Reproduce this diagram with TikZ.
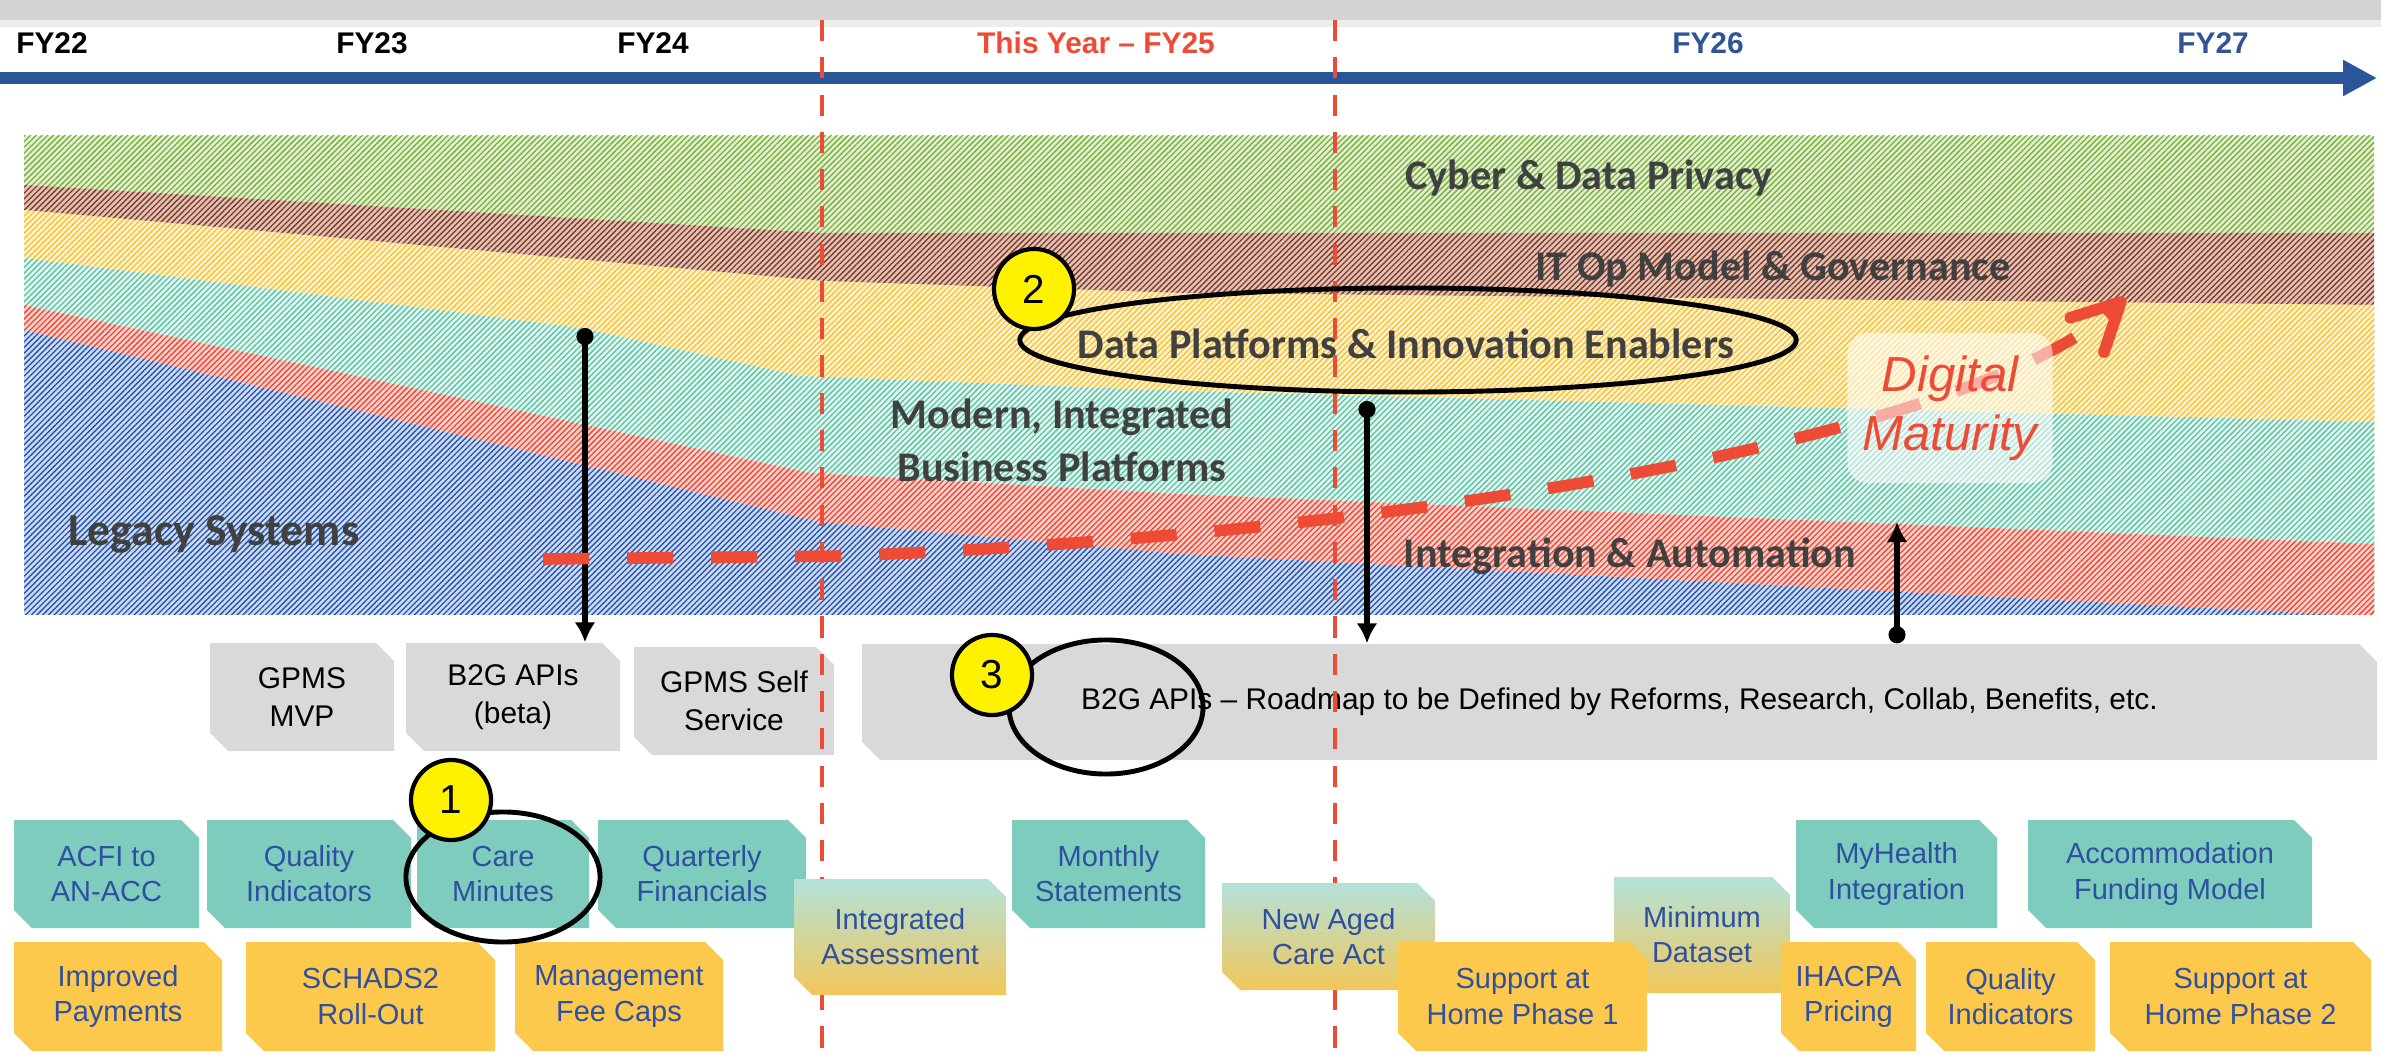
\documentclass[tikz,border=0pt]{standalone}
\usepackage{fontspec}
\setmainfont{Liberation Sans}
\newfontfamily\calibri{Carlito}
\usepackage{xcolor}
\usepackage{tikz}
\usetikzlibrary{arrows.meta}
\usetikzlibrary{shapes.geometric,patterns.meta}

\definecolor{topgray}{HTML}{D3D3D5}
\definecolor{tlblue}{HTML}{2A5599}
\definecolor{nowred}{HTML}{EE4B36}
\definecolor{fytext}{HTML}{2F5597}
\definecolor{boxtext}{HTML}{2F50A0}
\definecolor{bandtext}{HTML}{404040}
\definecolor{tealbox}{HTML}{7ECCBE}
\definecolor{yellowbox}{HTML}{FDC94C}
\definecolor{graybox}{HTML}{D9D9D9}
\definecolor{gradtop}{HTML}{B3E2DA}
\definecolor{gradbot}{HTML}{F2C75A}
\definecolor{grnbase}{HTML}{E2EFD2}
\definecolor{grnline}{HTML}{7AAE3A}
\definecolor{brnbase}{HTML}{E4C2B6}
\definecolor{brnline}{HTML}{7A3A28}
\definecolor{ylwbase}{HTML}{FFF2CC}
\definecolor{ylwline}{HTML}{F6C136}
\definecolor{tlbase}{HTML}{E0F5EF}
\definecolor{tlline}{HTML}{5DC0A5}
\definecolor{redbase}{HTML}{FBD2CB}
\definecolor{redline}{HTML}{EE4535}
\definecolor{blubase}{HTML}{CCDBF3}
\definecolor{bluline}{HTML}{2653A8}

\tikzstyle{hatch} = [pattern={Lines[angle=45,distance=1.15pt,line width=0.38pt]}]
\tikzstyle{greenband} = [fill=grnbase, postaction={hatch, pattern color=grnline}]
\tikzstyle{brownband} = [fill=brnbase, postaction={hatch, pattern color=brnline}]
\tikzstyle{yellowband} = [fill=ylwbase, postaction={hatch, pattern color=ylwline}]
\tikzstyle{tealband} = [fill=tlbase, postaction={hatch, pattern color=tlline}]
\tikzstyle{redband} = [fill=redbase, postaction={hatch, pattern color=redline}]
\tikzstyle{blueband} = [fill=blubase, postaction={hatch, pattern color=bluline}]
\tikzstyle{yearlabel} = [font=\bfseries\fontsize{8.5}{10}\selectfont]
\tikzstyle{bandlabel} = [font=\calibri\bfseries\fontsize{12}{15}\selectfont, text=bandtext, align=center]
\tikzstyle{boxlabel} = [font=\fontsize{8.25}{10}\selectfont, text=boxtext, align=center, inner sep=0pt]
\tikzstyle{graylabel} = [font=\fontsize{8.5}{10.9}\selectfont, text=black, align=center, inner sep=0pt]
\tikzstyle{timeline} = [tlblue, line width=3.4pt, -{Triangle[length=0.34cm,width=0.34cm]}]
\tikzstyle{nowline} = [nowred, line width=1.2pt, dash pattern=on 6pt off 4.6pt]
\tikzstyle{droparrow} = [line width=1.6pt, {Circle[length=1.7mm]}-{Latex[length=2mm,width=2.1mm]}]
\tikzstyle{matline} = [nowred, line width=3.3pt, dash pattern=on 13.1pt off 10.8pt, -{Straight Barb[length=4.7mm,width=4.8mm,round]}]
\tikzstyle{matbox} = [rounded corners=0.2cm, fill=white, fill opacity=0.55, text opacity=1, text=nowred, minimum width=2.05cm, minimum height=1.5cm, align=center, font=\itshape\fontsize{14}{16.8}\selectfont]
\tikzstyle{handring} = [ellipse, draw=black, line width=1.4pt, inner sep=0pt]
\tikzstyle{badge} = [circle, draw=black, line width=1.2pt, fill=yellow, minimum size=0.8cm, inner sep=0pt, font=\fontsize{11.5}{12}\selectfont]

% box with cut top-right and bottom-left corners: name, x1, y1, x2, y2, fill, text style, text
\newcommand{\snipbox}[8]{%
  \path[#6] (#2,#3) -- ({#4-18},#3) -- (#4,{#3+18}) -- (#4,#5) -- ({#2+18},#5) -- (#2,{#5-18}) -- cycle;
  \node[#7, minimum width={(#4-#2)*0.01cm}, minimum height={(#5-#3)*0.01cm}] (#1) at ({(#2+#4)/2},{(#3+#5)/2}) {#8};
}

\begin{document}
\begin{tikzpicture}[x=0.01cm, y=-0.01cm]
\useasboundingbox (0,0) rectangle (2381,1058);

% time line
\fill[topgray] (0,0) rectangle (2381,20);
\fill[topgray!40] (0,20) rectangle (2381,27);
\coordinate (tlstart) at (0,78);
\coordinate (tlend) at (2377,78);
\draw[timeline] (tlstart) -- (tlend);

\node[yearlabel] (fy22) at (52,43) {FY22};
\node[yearlabel] (fy23) at (372,43) {FY23};
\node[yearlabel] (fy24) at (653,43) {FY24};
\node[yearlabel, text=nowred] (fy25) at (1096,43) {This Year – FY25};
\node[yearlabel, text=fytext] (fy26) at (1708,43) {FY26};
\node[yearlabel, text=fytext] (fy27) at (2213,43) {FY27};

% layers
\path[greenband] (24,136) rectangle (2374,615);
\path[brownband] (24,185) -- (822,233) -- (2374,233) |- (24,615) -- cycle;
\path[yellowband] (24,210) -- (822,281) -- (1180,293) -- (2374,305) |- (24,615) -- cycle;
\path[tealband] (24,258) -- (581,328) -- (800,376) -- (1180,391) -- (2374,422) |- (24,615) -- cycle;
\path[redband] (24,305) -- (811,473) -- (1180,494) -- (2374,544) |- (24,615) -- cycle;
\path[blueband] (24,330) -- (819,522) -- (1180,554) -- (2340,615) -- (24,615) -- cycle;

\node[bandlabel] (cyber) at (1589,178) {Cyber \& Data Privacy};
\node[bandlabel] (itop) at (1773,269) {IT Op Model \& Governance};
\node[bandlabel] (dataplat) at (1406,344) {Data Platforms \& Innovation Enablers};
\node[bandlabel] (modern) at (1062,440) {Modern, Integrated\\Business Platforms};
\node[bandlabel] (integ) at (1630,556) {Integration \& Automation};
\node[bandlabel, font=\calibri\bfseries\fontsize{13}{15}\selectfont] (legacy) at (214,534) {Legacy Systems};

% B2G row
\snipbox{mvp}{210}{643}{394}{751}{fill=graybox}{graylabel}{GPMS\\MVP}
\snipbox{beta}{406}{643}{620}{751}{fill=graybox}{graylabel}{B2G APIs\\(beta)}
\snipbox{selfserv}{634}{647}{834}{755}{fill=graybox}{graylabel}{GPMS Self\\Service}
\snipbox{roadmap}{862}{644}{2377}{760}{fill=graybox}{graylabel}{B2G APIs – Roadmap to be Defined by Reforms, Research, Collab, Benefits, etc.}

% this year
\coordinate (now1top) at (822,20);
\coordinate (now1bot) at (822,1058);
\coordinate (now2top) at (1335,20);
\coordinate (now2bot) at (1335,1058);
\draw[nowline] (now1top) -- (now1bot);
\draw[nowline] (now2top) -- (now2bot);

\coordinate (drop1) at (585,328);
\coordinate (drop2) at (1367,401);
\coordinate (rise3) at (1897,522);
\draw[droparrow] (drop1) -- (drop1 |- beta.north);
\draw[droparrow] (drop2) -- (drop2 |- roadmap.north);
\draw[droparrow] (rise3 |- roadmap.north) -- (rise3);

% digital maturity
\coordinate (matstart) at (543,559);
\coordinate (matbend) at (842,556);
\coordinate (matend) at (2125,298);
\draw[matline] (matstart) -- (matbend) .. controls (1500,530) and (2000,420) .. (matend);
\node[matbox] (maturity) at (1950,408) {Digital\\Maturity};

\node[handring, minimum width=7.76cm, minimum height=1.04cm] (ring2) at (1408,340) {};
\node[badge] (two) at (1034,289) {2};
\node[handring, minimum width=1.94cm, minimum height=1.34cm] (ring3) at (1106,707) {};
\node[badge] (three) at (992,675) {3};

% reforms
\snipbox{acfi}{14}{820}{199}{928}{fill=tealbox}{boxlabel}{ACFI to\\AN-ACC}
\snipbox{qualind}{207}{820}{411}{928}{fill=tealbox}{boxlabel}{Quality\\Indicators}
\snipbox{caremin}{417}{820}{589}{928}{fill=tealbox}{boxlabel}{Care\\Minutes}
\snipbox{quarterly}{598}{820}{806}{928}{fill=tealbox}{boxlabel}{Quarterly\\Financials}
\snipbox{monthly}{1012}{820}{1205}{928}{fill=tealbox}{boxlabel}{Monthly\\Statements}
\snipbox{myhealth}{1796}{820}{1997}{928}{fill=tealbox}{boxlabel}{MyHealth\\Integration}
\snipbox{accom}{2028}{820}{2312}{928}{fill=tealbox}{boxlabel}{Accommodation\\Funding Model}

\snipbox{intassess}{794}{879}{1006}{995}{top color=gradtop, middle color=tealbox, bottom color=gradbot}{boxlabel}{Integrated\\Assessment}
\snipbox{agedact}{1222}{883}{1435}{990}{top color=gradtop, middle color=tealbox, bottom color=gradbot}{boxlabel}{New Aged\\Care Act}
\snipbox{mindata}{1614}{877}{1790}{993}{top color=gradtop, middle color=tealbox, bottom color=gradbot}{boxlabel}{Minimum\\Dataset}

\snipbox{payments}{14}{942}{222}{1051}{fill=yellowbox}{boxlabel}{Improved\\Payments}
\snipbox{schads}{246}{942}{495}{1051}{fill=yellowbox}{boxlabel}{SCHADS2\\Roll-Out}
\snipbox{feecaps}{515}{942}{723}{1051}{fill=yellowbox}{boxlabel}{Management\\Fee Caps}
\snipbox{sahone}{1398}{942}{1647}{1051}{fill=yellowbox}{boxlabel}{Support at\\Home Phase 1}
\snipbox{ihacpa}{1781}{942}{1916}{1051}{fill=yellowbox}{boxlabel}{IHACPA\\Pricing}
\snipbox{qualindb}{1926}{942}{2095}{1051}{fill=yellowbox}{boxlabel}{Quality\\Indicators}
\snipbox{sahtwo}{2110}{942}{2371}{1051}{fill=yellowbox}{boxlabel}{Support at\\Home Phase 2}

\node[handring, minimum width=1.94cm, minimum height=1.30cm] (ring1) at (503,877) {};
\node[badge] (one) at (451,800) {1};
\end{tikzpicture}
\end{document}
